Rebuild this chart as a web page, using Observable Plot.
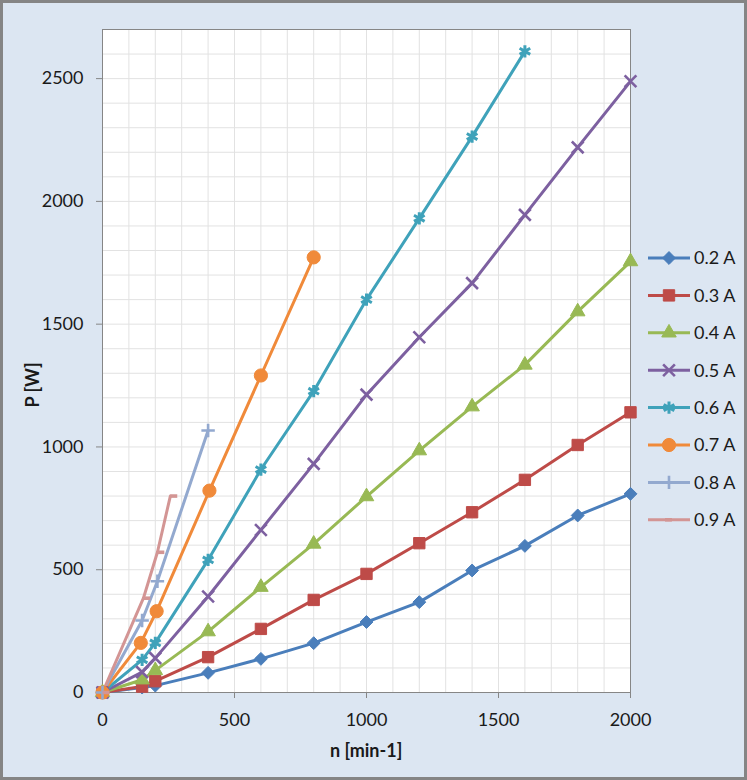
<!DOCTYPE html>
<html>
<head>
<meta charset="utf-8">
<script src="https://cdn.jsdelivr.net/npm/d3@7"></script>
<script src="https://cdn.jsdelivr.net/npm/@observablehq/plot@0.6"></script>
<style>
  html, body { margin: 0; padding: 0; background: #fff; }
  #wrap { position: relative; width: 747px; height: 780px; background: #dce6f2; overflow: hidden; font-family: Lato, "Liberation Sans", sans-serif; }
  #border { position: absolute; left: 0; top: 0; width: 747px; height: 780px; box-sizing: border-box; border: 3px solid #858585; pointer-events: none; z-index: 5; }
  #chart { position: absolute; left: 0; top: 0; }
  #legend { position: absolute; left: 0; top: 0; z-index: 3; }
  .atitle { position: absolute; font-weight: bold; font-size: 18px; color: #1a1a1a; white-space: nowrap; }
</style>
</head>
<body>
<div id="wrap">
  <div id="chart"></div>
  <svg id="legend" width="747" height="780"></svg>
  <div class="atitle" id="xt">n [min-1]</div>
  <div class="atitle" id="yt">P [W]</div>
  <div id="border"></div>
</div>
<script>
// ---- data ----
const seriesNames = ["0.2 A", "0.3 A", "0.4 A", "0.5 A", "0.6 A", "0.7 A", "0.8 A", "0.9 A"];
const n02 = [0, 150, 200, 400, 600, 800, 1000, 1200, 1400, 1600, 1800, 2000];
const P02 = [0, 20, 28, 80, 137, 201, 287, 368, 497, 597, 721, 809];
const n03 = [0, 150, 200, 400, 600, 800, 1000, 1200, 1400, 1600, 1800, 2000];
const P03 = [0, 24, 46, 144, 259, 377, 483, 608, 734, 866, 1008, 1141];
const n04 = [0, 150, 200, 400, 600, 800, 1000, 1200, 1400, 1600, 1800, 2000];
const P04 = [0, 52, 90, 248, 429, 605, 798, 985, 1164, 1334, 1551, 1755];
const n05 = [0, 150, 200, 400, 600, 800, 1000, 1200, 1400, 1600, 1800, 2000];
const P05 = [0, 83, 140, 391, 662, 931, 1213, 1447, 1667, 1945, 2220, 2489];
const n06 = [0, 150, 200, 400, 600, 800, 1000, 1200, 1400, 1600];
const P06 = [0, 133, 202, 540, 908, 1227, 1600, 1931, 2264, 2611];
const n07 = [0, 145, 205, 405, 600, 800];
const P07 = [0, 202, 331, 822, 1291, 1772];
const n08 = [0, 150, 208, 400];
const P08 = [0, 293, 453, 1067];
const n09 = [0, 155, 208, 257];
const P09 = [0, 384, 571, 800];
const xTicks = [0, 500, 1000, 1500, 2000];
const yTicks = [0, 500, 1000, 1500, 2000, 2500];

// ---- styles ----
const dash = { draw(ctx, size) { const r = Math.sqrt(size / Math.PI); ctx.moveTo(0, 0); ctx.lineTo(r * 1.5, 0); } };
const styles = [
  { color: "#4a7ebb", symbol: "diamond2", r: 5.8, filled: true },
  { color: "#be4b48", symbol: "square", r: 6.4, filled: true },
  { color: "#98b954", symbol: "triangle", r: 5.4, filled: true },
  { color: "#7d60a0", symbol: "times", r: 5.4, filled: false, sw: 2.6 },
  { color: "#3fa2ba", symbol: "asterisk", r: 5.8, filled: false, sw: 3 },
  { color: "#f08a3a", symbol: "circle", r: 6.6, filled: true },
  { color: "#93a9cf", symbol: "plus", r: 4.4, filled: false, sw: 2.6 },
  { color: "#d39594", symbol: dash, r: 4.6, filled: false, sw: 3.6 }
];
const ns = [n02, n03, n04, n05, n06, n07, n08, n09];
const Ps = [P02, P03, P04, P05, P06, P07, P08, P09];
const tables = ns.map((n, i) => n.map((v, j) => ({ n: v, P: Ps[i][j], s: seriesNames[i] })));

const marks = [
  Plot.frame({ fill: "white", stroke: null }),
  Plot.gridX(d3.range(100, 2000, 100), { stroke: "#e2e2e2", strokeOpacity: 1 }),
  Plot.gridY(d3.range(100, 2700, 100), { stroke: "#e2e2e2", strokeOpacity: 1 }),
  Plot.frame({ stroke: "#868686" }),
  Plot.axisX({ ticks: xTicks, tickSize: 6, tickPadding: 15, label: null, stroke: "#868686", fill: "#1a1a1a", tickFormat: d => String(d) }),
  Plot.axisY({ ticks: yTicks, tickSize: 6, tickPadding: 13, label: null, stroke: "#868686", fill: "#1a1a1a", tickFormat: d => String(d) })
];
tables.forEach((t, i) => {
  const st = styles[i];
  marks.push(Plot.line(t, { x: "n", y: "P", stroke: st.color, strokeWidth: 3, strokeLinejoin: "round", strokeLinecap: "round" }));
});
tables.forEach((t, i) => {
  const st = styles[i];
  marks.push(Plot.dot(t, st.filled
    ? { x: "n", y: "P", symbol: st.symbol, r: st.r, fill: st.color, stroke: st.color, strokeWidth: 1 }
    : { x: "n", y: "P", symbol: st.symbol, r: st.r, fill: "none", stroke: st.color, strokeWidth: st.sw }));
});

const chart = Plot.plot({
  width: 747,
  height: 780,
  marginLeft: 102,
  marginRight: 117,
  marginTop: 29,
  marginBottom: 88,
  x: { domain: [0, 2000] },
  y: { domain: [0, 2700] },
  style: { background: "transparent", fontFamily: "Lato, 'Liberation Sans', sans-serif", fontSize: "18px", color: "#1a1a1a", overflow: "visible" },
  marks
});
document.getElementById("chart").appendChild(chart);

// ---- axis titles ----
const xt = document.getElementById("xt");
const yt = document.getElementById("yt");
xt.style.left = (366 - xt.offsetWidth / 2) + "px";
xt.style.top = (750 - xt.offsetHeight / 2) + "px";
yt.style.left = (31 - yt.offsetWidth / 2) + "px";
yt.style.top = (385 - yt.offsetHeight / 2) + "px";
yt.style.transform = "rotate(-90deg)";

// ---- legend ----
const symMap = { diamond2: d3.symbolDiamond2, square: d3.symbolSquare, triangle: d3.symbolTriangle, times: d3.symbolTimes, asterisk: d3.symbolAsterisk, circle: d3.symbolCircle, plus: d3.symbolPlus };
const lg = d3.select("#legend");
seriesNames.forEach((name, i) => {
  const st = styles[i];
  const g = lg.append("g").attr("transform", `translate(0,${258 + i * 37.4})`);
  g.append("line").attr("x1", 648).attr("x2", 690).attr("y1", 0).attr("y2", 0)
    .attr("stroke", st.color).attr("stroke-width", 3);
  const type = typeof st.symbol === "string" ? symMap[st.symbol] : st.symbol;
  const path = d3.symbol(type, Math.PI * st.r * st.r)();
  const sx = typeof st.symbol === "string" ? 669 : 665;
  const p = g.append("path").attr("d", path).attr("transform", `translate(${sx},0)`);
  if (st.filled) p.attr("fill", st.color).attr("stroke", st.color);
  else p.attr("fill", "none").attr("stroke", st.color).attr("stroke-width", st.sw);
  g.append("text").attr("x", 694).attr("y", 0).attr("dy", "0.35em")
    .attr("font-family", "Lato, 'Liberation Sans', sans-serif").attr("font-size", 18).attr("fill", "#1a1a1a")
    .text(name);
});
</script>
</body>
</html>
